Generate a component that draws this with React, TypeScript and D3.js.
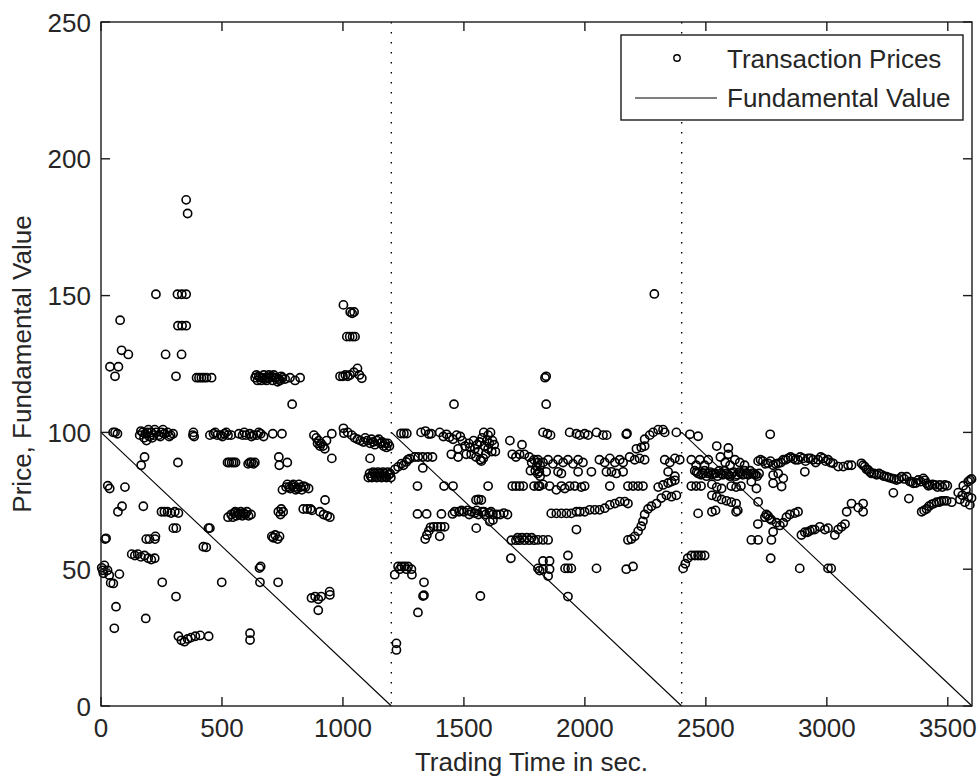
import React from 'react';
import * as d3 from 'd3';

const xTicks = [0, 500, 1000, 1500, 2000, 2500, 3000, 3500];
const yTicks = [0, 50, 100, 150, 200, 250];
const periodBreaks = [1200, 2400];
const fundamentalStart = [0, 1200, 2400];
const fundamentalEnd = [1200, 2400, 3600];
const fundamentalHigh = 100;
const fundamentalLow = 0;

const period1: [number, number][] = [
  [50,100],[68,99.5],[58,100],
  [160,99],[172,100],[183,99.5],[192,100],[200,98.5],[208,100],[218,99],[228,100],[238,99],[250,100],[262,99.5],[275,100],[288,99],[298,99.5],[188,97],
  [165,100.5],[178,98],[196,101],[212,98],[222,101],[245,98.5],[256,101],[282,98.5],
  [380,99],[385,98.5],[382,100],
  [450,99],[465,99.5],[480,99],[495,99],[510,99.5],[525,99],[538,99],[472,100],[502,98.5],[518,100],
  [570,99.5],[585,99],[600,99],[615,99.5],[630,99],[645,99],[660,99.5],[672,98.5],[592,100],[622,98.5],[652,100],
  [710,99.5],[748,99.5],
  [880,99],[890,98],[900,97],[910,96],[918,95],[925,94],[932,97],[954,99.5],[895,96],[905,95],
  [1002,101.5],[1004,99.7],[1020,100],[1036,99],[1048,98],[1060,97.5],[1072,97],[1085,96.5],[1100,97],[1112,96],[1125,96.5],[1140,97],[1155,96],[1168,95],[1180,94.5],[1192,95],
  [1092,98],[1118,97.5],[1132,95.5],[1148,97.5],[1162,96.5],[1175,96],[1186,96],
  [37,124],[58,120.5],[72,124],[79,141],[85,130],[113,128.5],[227,150.5],[267,128.5],[310,120.5],[316,150.5],[334,150.5],[352,150.5],[318,139],[335,139],[352,139],[333,128.5],[352,185],[358,180],[395,120],[415,120],[436,120],[457,120],[405,120],[425,120],
  [637,120],[647,119],[657,120],[668,120],[678,119.5],[689,120],[699,120],[709,119],[719,120],[730,118.5],[740,119],[750,120],[761,119.5],[781,120],[802,119],[823,120],[790,110.3],
  [642,121],[652,120.5],[662,119],[673,121],[684,119],[694,121],[704,120.5],[714,121],[724,120],[735,119.5],[745,120.5],
  [1002,146.6],[1030,144],[1038,143.5],[1046,144],[1016,135],[1028,135],[1040,135],[1050,135],[988,120.5],[1000,120.5],[1010,121],[1020,120.5],[1029,121],[1045,122],[1060,123.4],[1078,119.8],[1068,121],
  [180,91],[166,88],[318,89],[523,89],[540,89],[556,89],[608,88.5],[622,89],[636,89],[735,91],[737,88],[770,89],[954,90.5],[1112,90.5],[530,89],[548,89],[615,89],[630,88.5],
  [1110,85],[1120,83.5],[1130,85],[1140,83.5],[1150,85],[1160,83.5],[1170,85],[1180,83.5],[1190,84.5],[1198,83.5],
  [1115,84],[1125,85.5],[1135,84],[1145,85.5],[1155,84],[1165,85.5],[1175,84],[1185,85.5],[1195,85],[1105,83.5],
  [28,80.5],[36,79.5],[99,80],[750,79],[765,80],[777,80],[790,80.5],[800,80],[812,79.5],[825,80],[838,80.4],[845,80],[858,79.5],
  [770,81],[782,79.5],[795,81],[805,79],[818,81],[830,79],
  [70,71],[87,73],[175,73],[250,71],[262,71],[275,71],[290,70.5],[305,71],[320,70.5],[525,69],[538,70],[550,70.5],[560,69.5],[572,70],[584,69.5],[596,70],[610,69.5],[620,70],
  [545,69],[555,71],[566,70.5],[578,71],[590,70.5],[603,71],
  [733,71],[745,72],[753,71],[742,70],[836,72],[852,72],[866,72],[872,71.5],[905,71],[920,70],[935,69.5],[946,69],[926,75.3],
  [21,61.3],[17,61],[187,61],[200,61],[223,61],[225,62],[299,65],[311,65],[444,65],[450,65],[435,58],[423,58.2],[706,62],[712,61.5],[720,62.5],[730,61],[738,62],
  [127,55.5],[140,55],[152,55.5],[165,54.5],[180,55],[195,54],[208,53.5],[222,54],
  [3,50.5],[14,51.4],[7,49.6],[27,49.6],[34,47.8],[51,44.8],[76,48.2],[40,45],[655,50.4],[660,51],[10,48.5],
  [253,45.2],[499,45.2],[657,45.2],[732,45.2],
  [310,40],[870,39.5],[885,40],[898,39],[910,40],[945,41.8],[946,40.6],[898,35],
  [62,36.3],[55,28.4],[185,32],[320,25.5],[332,24],[345,23.5],[358,24.5],[372,25],[390,25.5],[410,25.8],[445,25.5],[616,26.6],[616,24.1],
];

const period2: [number, number][] = [
  [1214,48],[1228,51],[1242,51],[1255,51],[1269,51],[1283,50],[1285,48],[1221,22.9],[1221,20.5],[1235,50],[1262,50],
  [1228,87.4],[1242,88.6],[1262,89.2],[1276,90.4],[1297,91],[1215,86.5],[1250,88],[1268,90],
  [1240,99.6],[1252,99.6],[1264,99.6],
  [1311,91],[1330,91],[1350,91],[1370,91],[1330,87],
  [1335,45.2],[1331,40.2],[1335,40.5],[1310,34.2],[1568,40.2],
  [1308,80.4],[1418,80.4],[1455,80.4],[1600,80.4],[1700,80.4],[1715,80.4],[1730,80.4],[1745,80.4],[1790,80.4],[1807,80.4],
  [1308,70.2],[1346,70.2],[1407,70.2],[1453,70.2],
  [1340,61],[1347,62.5],[1355,64],[1362,65.3],[1375,65.5],[1390,65.5],[1405,65.5],[1420,65.5],[1400,62],
  [1462,71],[1480,71],[1500,71],[1515,71.5],[1530,71],[1545,70.5],[1560,70],[1575,71],[1590,70],[1605,70.5],[1620,70],[1635,70],[1650,70],[1665,70.5],[1680,70],[1550,75.3],[1560,75.5],[1572,75.3],
  [1490,71.5],[1522,70],[1553,71.5],[1583,71],[1612,71],
  [1551,65],[1607,67.4],[1620,68],
  [1694,54],[1696,60.6],[1715,60.6],[1730,60.6],[1750,60.6],[1770,60.6],[1790,60.6],[1806,50.3],[1722,61.5],[1740,61.5],[1760,61.5],[1780,61.5],
  [1323,100],[1341,100.5],[1355,99.4],[1365,99.5],[1400,100],[1415,98.5],[1428,99.3],[1440,98.2],[1455,97.5],[1470,99],[1485,98.5],
  [1459,110.3],
  [1493,97],[1505,95],[1520,96],[1540,97],[1555,95.5],[1575,98],[1582,100],[1600,99],[1610,100],[1618,97],[1625,95.5],[1630,93],[1600,94],[1590,92],[1560,93],[1568,90],[1572,89.5],[1530,92],[1510,92],[1525,94.5],
  [1545,94],[1565,96.5],[1585,95],[1595,97],[1605,96],[1615,93],[1550,91],[1580,90.5],
  [1448,92],[1476,94],[1476,91],
  [1690,97],[1740,95.5],[1700,92],[1715,91],[1730,92],[1750,92],[1770,91],[1790,90],[1805,89],[1815,88],[1775,86],[1795,86],[1805,85],[1815,84],[1780,89],[1800,87.5],
  [1835,120],[1840,120.5],[1840,110.3],
  [1827,100],[1845,99.5],[1858,99],
  [1937,100],[1965,99.5],[1978,99],[1999,99.5],[2013,99],[2048,100],[2075,99],[2090,99],
  [2171,99.3],[2174,99.6],
  [2247,97.5],[2268,99],[2282,100],[2303,101],[2323,101],[2330,100],[2287,150.6],
  [2213,94],[2233,94.5],[2247,95],
  [2378,100],
  [1806,90],[1827,89],[1848,90],[1868,88.5],[1889,90],[1910,89],[1930,90],[1951,88.5],[1972,90],[1992,89],
  [2060,90],[2082,89],[2103,90.5],[2124,89],[2144,90],[2158,89],
  [2185,91],[2206,90],[2226,90.5],[2247,90],
  [2330,90],[2351,89],[2372,90.5],[2392,90],
  [1812,85.6],[1840,85.6],[1889,85.6],[1903,85],[1972,85.6],[2027,85.6],[2089,85.6],[2110,85.6],[2130,85],[2158,85.6],[2344,85.6],[2372,84],
  [1813,80.4],[1827,81],[1854,80.4],[1882,79],[1903,80.4],[1917,79.5],[1937,80.4],[1958,80.4],[1985,80],[1999,80.4],[2103,80.4],[2178,80.4],[2199,80.4],[2220,80.4],[2240,80.4],
  [2303,80],[2323,80.8],[2344,81.5],[2358,82],[2372,82.5],
  [2275,73],[2296,74],[2316,76],[2337,77],[2358,76.5],[2378,77],
  [1861,70.4],[1882,70.4],[1903,70.4],[1924,70.4],[1944,70.4],[1965,71],[1979,71],[1999,71],[2020,71.7],[2041,71.7],[2061,71.7],[2082,72.3],[2103,73.5],[2124,74],[2144,74.7],[2165,74.7],[2178,74],
  [2261,72],[2247,70],[2240,67.5],[2233,65.7],[2220,63.9],[2206,62],[2192,61],[2178,60.7],
  [1965,64.5],
  [1806,60.7],[1827,60.7],[1848,60.7],
  [1930,55],
  [1827,53],[1854,53],[1827,50],[1854,50],[1848,47.5],[1813,49.5],
  [1918,50.3],[1930,50.3],[1944,50.3],[2048,50.3],[2171,50],[2199,51],
  [1930,40],
];

const period3: [number, number][] = [
  [2406,50.3],[2415,52],[2425,54],[2440,55],[2455,55],[2468,55],[2480,55],[2495,55],
  [2434,99.3],[2468,98.6],[2545,95],[2593,94.3],[2593,92],
  [2440,90],[2460,88],[2475,90],[2495,88],[2510,90],[2560,91],[2580,89],[2600,88],[2620,90],[2640,89],[2660,88],
  [2454,86],[2468,85],[2480,84.5],[2495,86],[2510,85],[2525,84.5],[2540,85],[2555,86],[2570,84.5],[2585,85],[2600,84],[2615,85.5],[2630,84.5],[2645,85],[2660,86],[2675,84.5],[2690,85],[2705,84.5],[2720,85],
  [2462,85.5],[2488,85],[2503,84],[2518,85.5],[2533,85],[2548,84],[2563,85],[2578,86],[2593,84.5],[2608,85],[2623,84],[2638,85.5],[2653,84.5],[2668,85],[2683,86],[2698,85],[2712,84],
  [2440,80.4],[2460,80.4],[2480,80.4],[2525,81],[2545,80],[2565,79.5],[2605,80.4],[2625,80],[2645,80.4],[2688,82],[2709,79.5],
  [2525,77],[2545,76.5],[2565,75.5],[2585,75],[2605,74.5],[2625,74],[2525,71],[2540,71.5],[2625,71],[2632,71.5],
  [2468,70.4],[2688,60.7],[2715,66.5],
  [2766,99.3],
  [2716,89.5],[2736,89.5],[2757,88.7],[2778,88],[2799,88.7],[2820,90],[2840,90.5],[2861,90.5],[2881,90],[2902,90.5],[2923,90.5],[2943,90],[2964,90],[2985,90.5],[3005,90],[3026,88.7],[3047,87.5],[3068,87.5],[3088,88],[3102,88],
  [2726,90],[2746,88.5],[2767,89.5],[2788,88.5],[2810,89],[2830,90],[2850,91],[2870,90],[2890,91],[2912,89.5],[2933,90.5],[2954,89],[2975,91],[2995,89.5],[3015,89],
  [2778,84.4],[2799,85],[2820,83.2],[2778,81.4],[2813,80.2],[2909,85.6],
  [3143,88.7],[3157,87.5],[3171,86.3],[3185,85],[3206,84.5],[3226,84.5],[3247,83.8],[3268,83.2],[3288,82.6],[3309,83.8],[3330,83.8],[3343,82],[3357,81.4],[3378,82.6],[3399,83.2],[3412,81.4],[3426,80.8],[3447,80.8],[3467,80.8],[3488,80.8],
  [3150,88],[3164,86.5],[3178,85.5],[3195,85],[3216,85],[3236,84],[3257,83.5],[3278,83],[3298,83],[3320,83],[3350,82],[3368,81.5],[3388,82],[3405,82.5],[3420,80.5],[3437,81],[3457,80],[3477,80],[3498,80.5],
  [3275,77.9],[3339,75.8],
  [3392,71],[3412,72],[3433,73.7],[3454,74.5],[3474,75],[3495,75],[3516,74.5],[3402,71.5],[3422,73],[3443,74],[3464,74.5],[3484,75],
  [3543,78],[3564,80.5],[3584,82],[3598,83],[3550,75.5],[3571,74.5],[3591,73.5],[3598,76],[3560,77],[3592,82.6],[3575,79],[3585,76.5],
  [2716,74.6],[2744,69],[2757,69.5],[2771,68],[2792,67],[2806,66],[2820,67],[2833,69],[2847,70],[2868,70.5],[2881,71],[2750,70],[2764,68.5],
  [2771,60.7],[2778,63.7],[2768,54],[2716,60.7],
  [2895,62.5],[2909,63.5],[2930,64],[2950,64.5],[2971,65.5],[2992,64.5],[3005,65],[2920,63.5],[2940,64.5],
  [3033,62.5],[3047,64.5],[3061,65.5],[3075,66.5],
  [3082,71],[3102,74],[3130,72.5],[3150,74],[3150,71],
  [2888,50.3],[3005,50.3],[3018,50.3],
];

const W = 978;
const H = 780;
const FONT = '"Liberation Sans", Arial, sans-serif';
const FS = 26;
const TEXT_COLOR = '#262626';

export default function App() {
  const x = d3.scaleLinear().domain([0, 3600]).range([101, 972]);
  const y = d3.scaleLinear().domain([0, 250]).range([706, 22]);
  const [x0, x1] = x.range();
  const [y0, y1] = y.range();
  const tickLen = 9;
  const line = d3.line<[number, number]>().x(d => x(d[0])).y(d => y(d[1]));
  const allPoints = [...period1, ...period2, ...period3];
  const axisColor = '#1a1a1a';

  return (
    <svg width={W} height={H} style={{ position: 'absolute', left: 0, top: 0, background: '#fff' }} fontFamily={FONT}>
      <rect x={0} y={0} width={W} height={H} fill="#fff" />
      {periodBreaks.map(b => (
        <line key={b} x1={x(b)} x2={x(b)} y1={y1} y2={y0} stroke="#000" strokeWidth={1.4} strokeDasharray="1.4,8.6" />
      ))}
      {fundamentalStart.map((s, i) => (
        <path key={s} d={line([[s, fundamentalHigh], [fundamentalEnd[i], fundamentalLow]]) || ''} stroke="#000" strokeWidth={1.1} fill="none" />
      ))}
      {allPoints.map((d, i) => (
        <circle key={i} cx={x(d[0])} cy={y(d[1])} r={4.1} fill="none" stroke="#000" strokeWidth={1.6} />
      ))}
      <rect x={x0} y={y1} width={x1 - x0} height={y0 - y1} fill="none" stroke={axisColor} strokeWidth={1.4} />
      {xTicks.map(t => (
        <g key={'x' + t}>
          <line x1={x(t)} x2={x(t)} y1={y0} y2={y0 - tickLen} stroke={axisColor} strokeWidth={1.4} />
          <line x1={x(t)} x2={x(t)} y1={y1} y2={y1 + tickLen} stroke={axisColor} strokeWidth={1.4} />
          <text x={x(t)} y={737} textAnchor="middle" fontSize={FS} fill={TEXT_COLOR}>{t}</text>
        </g>
      ))}
      {yTicks.map(t => (
        <g key={'y' + t}>
          <line x1={x0} x2={x0 + tickLen} y1={y(t)} y2={y(t)} stroke={axisColor} strokeWidth={1.4} />
          <line x1={x1} x2={x1 - tickLen} y1={y(t)} y2={y(t)} stroke={axisColor} strokeWidth={1.4} />
          <text x={91} y={y(t) + 9.5} textAnchor="end" fontSize={FS} fill={TEXT_COLOR}>{t}</text>
        </g>
      ))}
      <text x={(x0 + x1) / 2 - 5} y={771} textAnchor="middle" fontSize={FS} fill={TEXT_COLOR}>Trading Time in sec.</text>
      <text transform={`translate(31,364) rotate(-90)`} textAnchor="middle" fontSize={FS} fill={TEXT_COLOR}>Price, Fundamental Value</text>
      <rect x={621} y={35} width={342} height={85} fill="#fff" stroke={axisColor} strokeWidth={1.4} />
      <circle cx={677} cy={58} r={3.2} fill="none" stroke="#000" strokeWidth={1.4} />
      <text x={727} y={68} fontSize={FS} fill={TEXT_COLOR}>Transaction Prices</text>
      <line x1={635} x2={717} y1={98} y2={98} stroke="#000" strokeWidth={1.1} />
      <text x={727} y={107} fontSize={FS} fill={TEXT_COLOR}>Fundamental Value</text>
    </svg>
  );
}
